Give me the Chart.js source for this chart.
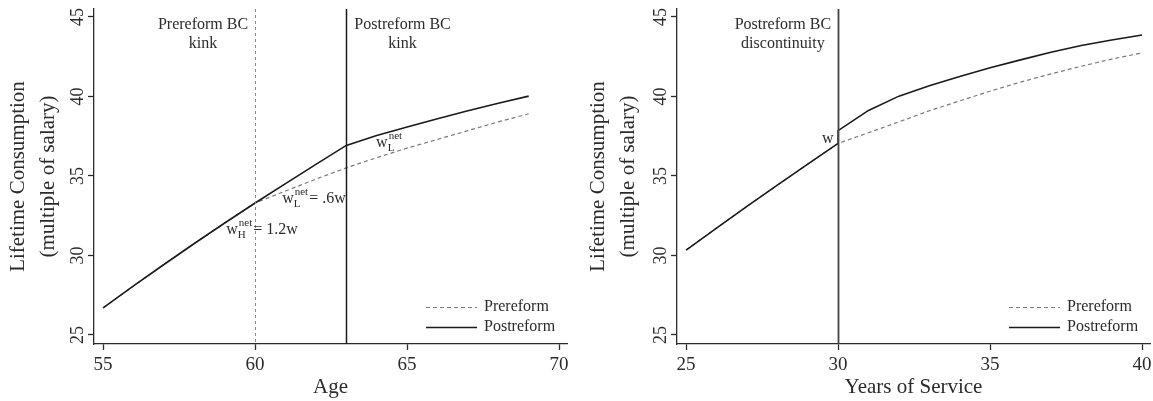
<!DOCTYPE html>
<html>
<head>
<meta charset="utf-8">
<script src="https://cdn.jsdelivr.net/npm/chart.js@4/dist/chart.umd.min.js"></script>
<style>
  body { margin: 0; background: #fff; }
  #wrap { display: flex; width: 1153px; height: 401px; }
  .panel { position: relative; height: 401px; }
</style>
</head>
<body>
<div id="wrap">
  <div class="panel" style="width:580px"><canvas id="ageChart" width="580" height="401"></canvas></div>
  <div class="panel" style="width:573px"><canvas id="serviceChart" width="573" height="401"></canvas></div>
</div>
<script>
const FONT = '"Liberation Serif", "Times New Roman", serif';
const INK = '#2b2b2b';

// Left panel: by age
const ageX = [55, 56, 57, 58, 59, 60, 61, 62, 63, 64, 65, 66, 67, 68, 69];
const agePre = [26.7, 28.08, 29.43, 30.75, 32.04, 33.3, 34.05, 34.8, 35.51, 36.15, 36.75, 37.3, 37.85, 38.4, 38.91];
const agePost = [26.7, 28.08, 29.43, 30.75, 32.04, 33.3, 34.52, 35.73, 36.92, 37.55, 38.08, 38.6, 39.1, 39.57, 40.02];
const ageTicks = [55, 60, 65, 70];

// Right panel: by years of service (postreform jumps at 30)
const serviceX = [25, 26, 27, 28, 29, 30, 31, 32, 33, 34, 35, 36, 37, 38, 39, 40];
const servicePre = [30.34, 31.72, 33.08, 34.42, 35.74, 37.05, 37.72, 38.4, 39.1, 39.72, 40.33, 40.9, 41.42, 41.9, 42.35, 42.74];
const servicePostX = [25, 26, 27, 28, 29, 30, 30, 31, 32, 33, 34, 35, 36, 37, 38, 39, 40];
const servicePost = [30.34, 31.72, 33.08, 34.42, 35.74, 37.05, 37.85, 39.12, 40.02, 40.67, 41.25, 41.8, 42.3, 42.78, 43.2, 43.55, 43.87];
const serviceTicks = [25, 30, 35, 40];

const yTicks = [25, 30, 35, 40, 45];
const seriesNames = ['Prereform', 'Postreform'];

const pairs = (xs, ys) => xs.map((x, i) => ({ x: x, y: ys[i] }));

// draws "w" with optional sub + "net" superscript, then trailing text
function drawW(ctx, x, y, sub, rest) {
  ctx.save();
  ctx.fillStyle = INK;
  ctx.textAlign = 'left';
  ctx.textBaseline = 'alphabetic';
  ctx.font = '16px ' + FONT;
  ctx.fillText('w', x, y);
  let cx = x + ctx.measureText('w').width;
  if (sub) {
    ctx.font = '11px ' + FONT;
    ctx.fillText(sub, cx, y + 4);
    ctx.fillText('net', cx + 1, y - 8);
    cx += Math.max(ctx.measureText(sub).width, ctx.measureText('net').width + 1) + 1;
  }
  if (rest) {
    ctx.font = '16px ' + FONT;
    ctx.fillText(rest, cx, y);
  }
  ctx.restore();
}

function extrasPlugin(cfg) {
  return {
    id: 'extras',
    afterDatasetsDraw(chart) {
      const ctx = chart.ctx;
      const area = chart.chartArea;
      const xs = chart.scales.x, ys = chart.scales.y;

      // reference lines
      cfg.vlines.forEach(v => {
        const px = Math.round(xs.getPixelForValue(v.value)) + 0.5;
        ctx.save();
        ctx.strokeStyle = v.color;
        ctx.lineWidth = v.width;
        ctx.setLineDash(v.dash);
        ctx.beginPath();
        ctx.moveTo(px, area.top);
        ctx.lineTo(px, area.bottom);
        ctx.stroke();
        ctx.restore();
      });

      // headings next to lines
      ctx.save();
      ctx.font = '16px ' + FONT;
      ctx.fillStyle = INK;
      ctx.textAlign = 'center';
      ctx.textBaseline = 'middle';
      cfg.headings.forEach(h => {
        const px = xs.getPixelForValue(h.line);
        const w = Math.max(...h.text.map(t => ctx.measureText(t).width));
        const cx = h.side === 'left' ? px - 7 - w / 2 : px + 8 + w / 2;
        h.text.forEach((t, i) => ctx.fillText(t, cx, area.top + 16 + i * 19));
      });
      ctx.restore();

      cfg.marks.forEach(m => drawW(ctx, xs.getPixelForValue(m.x), ys.getPixelForValue(m.y), m.sub, m.rest));

      // rotated y tick labels
      ctx.save();
      ctx.font = '18px ' + FONT;
      ctx.fillStyle = INK;
      ctx.textAlign = 'center';
      ctx.textBaseline = 'middle';
      yTicks.forEach(v => {
        ctx.save();
        ctx.translate(area.left - 16, ys.getPixelForValue(v));
        ctx.rotate(-Math.PI / 2);
        ctx.fillText(String(v), 0, 0);
        ctx.restore();
      });
      ctx.restore();

      // legend, bottom right inside plot
      ctx.save();
      ctx.font = '16px ' + FONT;
      ctx.textAlign = 'left';
      ctx.textBaseline = 'middle';
      const tx = area.right - 83;
      chart.data.datasets.forEach((ds, i) => {
        const ly = area.bottom - 37 + i * 20;
        ctx.strokeStyle = ds.borderColor;
        ctx.lineWidth = ds.borderWidth;
        ctx.setLineDash(ds.borderDash || []);
        ctx.beginPath();
        ctx.moveTo(tx - 58, ly + 0.5);
        ctx.lineTo(tx - 7, ly + 0.5);
        ctx.stroke();
        ctx.fillStyle = INK;
        ctx.fillText(ds.label, tx, ly);
      });
      ctx.restore();
    }
  };
}

function makeChart(id, opts) {
  return new Chart(document.getElementById(id), {
    type: 'line',
    data: {
      datasets: [
        { label: seriesNames[0], data: opts.pre, borderColor: '#7a7a7a', borderWidth: 1.2,
          borderDash: [4, 3], pointRadius: 0, order: 1 },
        { label: seriesNames[1], data: opts.post, borderColor: '#1a1a1a', borderWidth: 1.6,
          pointRadius: 0, order: 0 }
      ]
    },
    options: {
      responsive: false,
      animation: false,
      devicePixelRatio: 1,
      layout: { padding: { top: 9, right: opts.padRight, left: 0, bottom: 0 } },
      plugins: { legend: { display: false }, tooltip: { enabled: false } },
      scales: {
        x: {
          type: 'linear',
          min: opts.xMin, max: opts.xMax,
          afterBuildTicks: s => { s.ticks = opts.xTicks.map(v => ({ value: v })); },
          afterFit: s => { s.height = 57; s.paddingRight = 0; s.paddingLeft = 0; },
          border: { display: true, color: INK, width: 1.3 },
          grid: { display: true, drawOnChartArea: false, drawTicks: true, tickLength: 6, color: INK, tickWidth: 1.3 },
          ticks: { color: INK, font: { family: FONT, size: 19 }, padding: 4, maxRotation: 0, autoSkip: false },
          title: { display: true, text: opts.xTitle, color: INK,
                   font: { family: FONT, size: 21, lineHeight: 1.2 }, padding: { top: 0, bottom: 1 } }
        },
        y: {
          min: 24.43, max: 45.5,
          afterBuildTicks: s => { s.ticks = yTicks.map(v => ({ value: v })); },
          afterFit: s => { s.width = opts.yWidth; },
          border: { display: true, color: INK, width: 1.3 },
          grid: { display: true, drawOnChartArea: false, drawTicks: true, tickLength: 6, color: INK, tickWidth: 1.3 },
          ticks: { callback: () => '', padding: 0 },
          title: { display: true, text: ['Lifetime Consumption', '(multiple of salary)'], color: INK,
                   font: { family: FONT, size: 21, lineHeight: 1.43 }, padding: { top: 3, bottom: 0 } }
        }
      }
    },
    plugins: [extrasPlugin(opts.extras)]
  });
}

makeChart('ageChart', {
  pre: pairs(ageX, agePre),
  post: pairs(ageX, agePost),
  xMin: 54.7, xMax: 70.26, xTicks: ageTicks, xTitle: 'Age',
  padRight: 13, yWidth: 94,
  extras: {
    vlines: [
      { value: 60, color: '#8a8a8a', width: 1, dash: [3, 3] },
      { value: 63, color: '#1a1a1a', width: 1.5, dash: [] }
    ],
    headings: [
      { line: 60, side: 'left', text: ['Prereform BC', 'kink'] },
      { line: 63, side: 'right', text: ['Postreform BC', 'kink'] }
    ],
    marks: [
      { x: 59.05, y: 31.35, sub: 'H', rest: '= 1.2w' },
      { x: 60.89, y: 33.3, sub: 'L', rest: '= .6w' },
      { x: 63.98, y: 36.82, sub: 'L', rest: '' }
    ]
  }
});

makeChart('serviceChart', {
  pre: pairs(serviceX, servicePre),
  post: pairs(servicePostX, servicePost),
  xMin: 24.7, xMax: 40.26, xTicks: serviceTicks, xTitle: 'Years of Service',
  padRight: 3, yWidth: 97,
  extras: {
    vlines: [
      { value: 30, color: '#444', width: 1.8, dash: [] }
    ],
    headings: [
      { line: 30, side: 'left', text: ['Postreform BC', 'discontinuity'] }
    ],
    marks: [
      { x: 29.47, y: 37.08, sub: '', rest: '' }
    ]
  }
});
</script>
</body>
</html>
